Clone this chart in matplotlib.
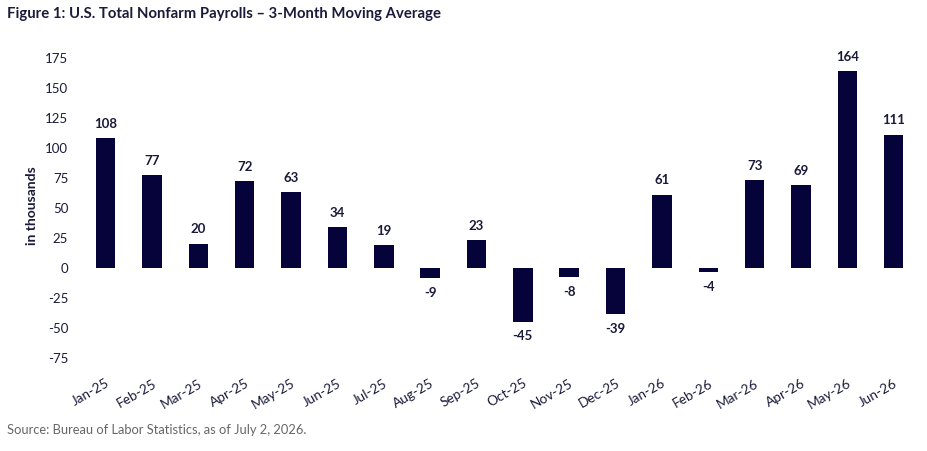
import matplotlib
matplotlib.use("Agg")
import matplotlib.pyplot as plt
import numpy as np

months = ["Jan-25", "Feb-25", "Mar-25", "Apr-25", "May-25", "Jun-25", "Jul-25", "Aug-25",
          "Sep-25", "Oct-25", "Nov-25", "Dec-25", "Jan-26", "Feb-26", "Mar-26", "Apr-26",
          "May-26", "Jun-26"]
values = [108, 77, 20, 72, 63, 34, 19, -9, 23, -45, -8, -39, 61, -4, 73, 69, 164, 111]
yticks = [-75, -50, -25, 0, 25, 50, 75, 100, 125, 150, 175]

BAR = "#05033a"
TXT = "#1a1a3a"
plt.rcParams['font.family'] = ['Lato', 'DejaVu Sans']

fig = plt.figure(figsize=(9.27, 4.51), dpi=100)
W, H = 927, 451
# pixel mapping
x0, dx = 105.7, 46.35
xl = (-0.6, 17.55)
y0, dy = 267.7, 1.199
yl = (-82, 185)
left = x0 + xl[0] * dx
right = x0 + xl[1] * dx
top = y0 - yl[1] * dy
bottom = y0 - yl[0] * dy
ax = fig.add_axes([left / W, 1 - bottom / H, (right - left) / W, (bottom - top) / H])

x = np.arange(len(months))
ax.bar(x, values, width=0.42, color=BAR)
ax.set_xlim(*xl)
ax.set_ylim(*yl)
for s in ax.spines.values():
    s.set_visible(False)
ax.set_yticks(yticks)
ax.set_yticklabels([str(v) for v in yticks], fontsize=9.5, color=TXT)
ax.tick_params(axis='y', length=0, pad=7)
ax.set_xticks(x)
ax.set_xticklabels(months, rotation=30, ha='right', rotation_mode='anchor', fontsize=9.8, color=TXT)
ax.tick_params(axis='x', length=0, pad=8)
ax.set_ylabel("in thousands", fontsize=10, fontweight='bold', color=TXT, labelpad=5)

for xi, v in zip(x, values):
    if v >= 0:
        ax.annotate(str(v), (xi, v), xytext=(0, 6), textcoords='offset points',
                    ha='center', va='bottom', fontsize=9.5, fontweight='bold', color=TXT)
    else:
        ax.annotate(str(v), (xi, v), xytext=(0, -6), textcoords='offset points',
                    ha='center', va='top', fontsize=9.5, fontweight='bold', color=TXT)

fig.text(7 / W, 1 - 14 / H, "Figure 1: U.S. Total Nonfarm Payrolls \u2013 3-Month Moving Average",
         fontsize=10.7, fontweight='bold', color=TXT, ha='left', va='center')
fig.text(7 / W, 1 - 430 / H, "Source: Bureau of Labor Statistics, as of July 2, 2026.",
         fontsize=9.3, color="#666666", ha='left', va='center')

fig.savefig("out.png", dpi=100)
